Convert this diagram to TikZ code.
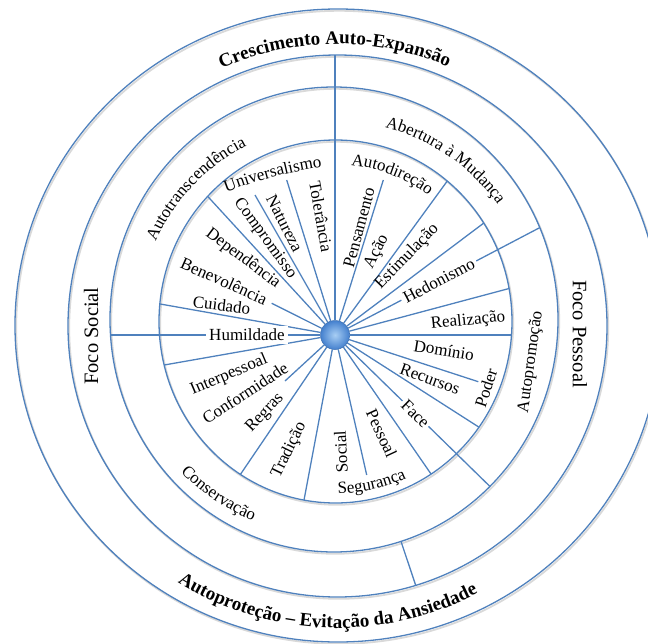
\documentclass[tikz,border=0pt]{standalone}
\usepackage{fontspec}
\setmainfont{Liberation Serif}
\usetikzlibrary{decorations.text}
\definecolor{lineblue}{RGB}{79,129,189}
\definecolor{hubout}{RGB}{68,128,206}
\definecolor{hubin}{RGB}{168,206,244}
\newcommand\vfont{\fontsize{17}{19}\selectfont}
\newcommand\titlefont{\fontsize{19}{21}\selectfont\bfseries}
\newcommand\focofont{\fontsize{20.5}{23}\selectfont}
\begin{document}
\begin{tikzpicture}[x=1pt,y=1pt,
  ring/.style={draw=lineblue, line width=1.3pt},
  ringshadow/.style={draw=black!15, line width=1.8pt},
  spoke/.style={draw=lineblue, line width=1.3pt},
  lbl/.style={font=\vfont, inner sep=1pt},
  onl/.style={font=\vfont, fill=white, inner sep=3pt},
  curved/.style={decorate, decoration={text along path, text align=center, text={#1}}}]
\useasboundingbox (0,0) rectangle (648,-643);
\clip (0,0) rectangle (648,-643);

% ring shadows
\begin{scope}[shift={(1.2,-1.8)}]
\draw[ringshadow] (335.5,-321.5) ellipse [x radius=176.5, y radius=181.5];
\draw[ringshadow] (334,-319.5) ellipse [x radius=224, y radius=232.5];
\draw[ringshadow] (337.5,-326) ellipse [x radius=269.5, y radius=271];
\draw[ringshadow] (338,-325.5) ellipse [x radius=323, y radius=316.5];
\end{scope}
% rings
\draw[ring] (335.5,-321.5) ellipse [x radius=176.5, y radius=181.5];
\draw[ring] (334,-319.5) ellipse [x radius=224, y radius=232.5];
\draw[ring] (337.5,-326) ellipse [x radius=269.5, y radius=271];
\draw[ring] (338,-325.5) ellipse [x radius=323, y radius=316.5];

% hub
\node[circle, minimum size=29pt, inner sep=0pt, draw=hubout!85!black, line width=0.5pt,
      shading=radial, inner color=hubin, outer color=hubout] (hub) at (335,-335) {};

% end points
\coordinate (top) at (335,-55);
\coordinate (e1) at (447.3,-181.0);
\coordinate (e2) at (483.7,-223.1);
\coordinate (e3) at (509.1,-288.5);
\coordinate (e4) at (511.5,-335);
\coordinate (e5) at (479,-427.2);
\coordinate (e6) at (431.1,-474.1);
\coordinate (e7) at (304,-500.1);
\coordinate (e8) at (240.4,-474.4);
\coordinate (e9) at (164.2,-365.0);
\coordinate (e10) at (160.2,-304);
\coordinate (e11) at (207.7,-196.4);
\coordinate (hed) at (539.8,-227.6);
\coordinate (hum) at (110.5,-335);
\coordinate (fac) at (489.9,-486.4);
\coordinate (bs1) at (401,-541.4);
\coordinate (bs2) at (415.7,-585.3);
\coordinate (s1) at (383.3,-180);
\coordinate (s2) at (478.3,-381.7);
\coordinate (s3) at (366.7,-475);
\coordinate (s4) at (285,-381);
\coordinate (s5) at (271.7,-303.3);
\coordinate (s6) at (255,-195);
\coordinate (s7) at (286.7,-180);

% spokes
\foreach \p in {top,e1,e2,e3,e4,e5,e6,e7,e8,e9,e10,e11,hed,hum,fac,s1,s2,s3,s4,s5,s6,s7}
  \draw[spoke] (hub) -- (\p);
\draw[spoke] (bs1) -- (bs2);

% labels on lines
\node[onl, rotate=27.7] (lhed) at (438.8,-280.5) {Hedonismo};
\node[onl] (lhum) at (247,-335) {Humildade};
\node[onl, rotate=-44.4, inner sep=2pt] (lfac) at (415.5,-413.7) {Face};

% sub-value labels
\node[lbl, rotate=75] (lpen) at (359,-227.5) {Pensamento};
\node[lbl, rotate=63] (laca) at (376.7,-251.7) {Ação};
\node[lbl, rotate=46] (lest) at (407,-256.5) {Estimulação};
\node[lbl, rotate=6] (lrea) at (468,-321) {Realização};
\node[lbl, rotate=-9] (ldom) at (444,-350) {Domínio};
\node[lbl, rotate=-20] (lrec) at (430,-379) {Recursos};
\node[lbl, rotate=72] (lpod) at (486,-388) {Poder};
\node[lbl, rotate=-65] (lpes) at (381.7,-433.3) {Pessoal};
\node[lbl, rotate=93] (lsoc) at (341,-452) {Social};
\node[lbl, rotate=64] (ltra) at (289,-450) {Tradição};
\node[lbl, rotate=47] (lreg) at (265,-413) {Regras};
\node[lbl, rotate=33] (lcon) at (245,-393) {Conformidade};
\node[lbl, rotate=23] (lint) at (229,-375) {Interpessoal};
\node[lbl, rotate=-7] (lcui) at (221.7,-305) {Cuidado};
\node[lbl, rotate=-24] (lben) at (224,-281) {Benevolência};
\node[lbl, rotate=-37] (ldep) at (243,-258.5) {Dependência};
\node[lbl, rotate=-54] (lcom) at (265,-238.5) {Compromisso};
\node[lbl, rotate=-63] (lnat) at (284.5,-223.5) {Natureza};
\node[lbl, rotate=-80] (ltol) at (321,-216.7) {Tolerância};
\node[lbl, rotate=82] (laut) at (531,-362) {Autopromoção};
\node[font=\focofont, rotate=90] (lfs) at (91,-336) {Foco Social};
\node[font=\focofont, rotate=-90] (lfp) at (580,-334) {Foco Pessoal};

% curved labels
\coordinate (uA) at (216.5,-195.8);
\coordinate (uB) at (332.2,-165.2);
\path[curved={|\vfont|Universalismo}] (uA) to[bend left=6] (uB);
\path[curved={|\vfont|Autodireção}] ([shift={(99:157)}]335.5,-321.5) arc[start angle=99, end angle=39, radius=157];
\path[curved={|\vfont|Segurança}] ([shift={(252.6:172)}]335.5,-321.5) arc[start angle=252.6, end angle=312.6, radius=172];
\path[curved={|\vfont|Autotranscendência}] ([shift={(176.5:196)}]335,-321) arc[start angle=176.5, end angle=96.5, radius=196];
\path[curved={|\vfont|Abertura à Mudança}] ([shift={(95.5:200)}]335,-321) arc[start angle=95.5, end angle=15.5, radius=200];
\path[curved={|\vfont|Conservação}] ([shift={(196:216)}]335,-321) arc[start angle=196, end angle=276, radius=216];
\path[curved={|\titlefont|Crescimento Auto-Expansão}] ([shift={(131:281)}]337,-325) arc[start angle=131, end angle=50, radius=281];
\path[curved={|\titlefont|Autoproteção – Evitação da Ansiedade}] ([shift={(208:303)}]337,-325) arc[start angle=208, end angle=328, radius=303];
\end{tikzpicture}
\end{document}
